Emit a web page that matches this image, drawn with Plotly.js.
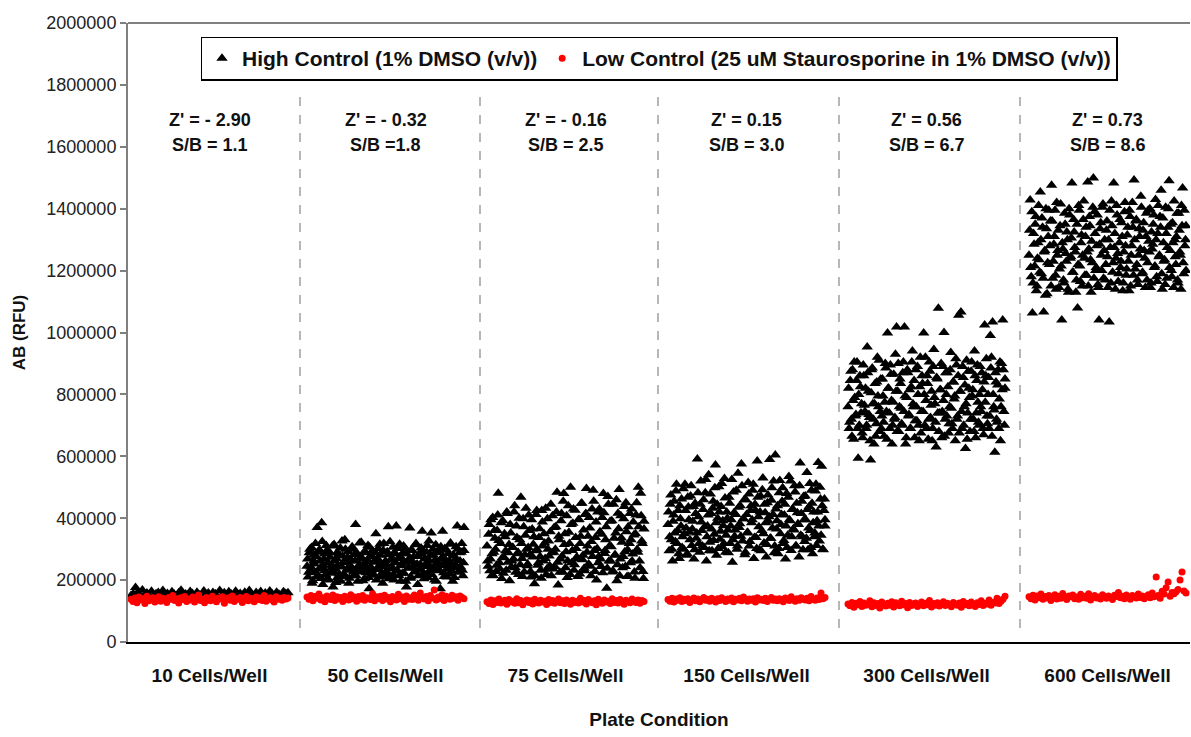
<!DOCTYPE html>
<html>
<head>
<meta charset="utf-8">
<script src="https://cdn.plot.ly/plotly-3.0.1.min.js"></script>
<style>html,body{margin:0;padding:0;background:#fff;}#chart{width:1191px;height:737px;}</style>
</head>
<body>
<div id="chart"></div>
<script>
// ---------------- DATA (in thousands of RFU) ----------------
const categories = ['10 Cells/Well', '50 Cells/Well', '75 Cells/Well', '150 Cells/Well', '300 Cells/Well', '600 Cells/Well'];
const zPrimeLabels = ["Z' = - 2.90", "Z' = - 0.32", "Z' = - 0.16", "Z' = 0.15", "Z' = 0.56", "Z' = 0.73"];
const sbLabels = ["S/B = 1.1", "S/B =1.8", "S/B = 2.5", "S/B = 3.0", "S/B = 6.7", "S/B = 8.6"];
const highName = 'High Control (1% DMSO (v/v))';
const lowName = 'Low Control (25 uM Staurosporine in 1% DMSO (v/v))';

// 10 cells/well
const high10 = [150,156,176,161,143,168,153,158,145,164,148,156,160,142,166,151,157,147,162,154,144,159,167,150,155,146,163,157,149,161,152,145,165,154,158,147,160,156,143,166,151,159,148,162,155,146,164,153,157,150,161,144,166,155,148,160,153,163,147,158,152,165,156,149,161,154,145,162,157,159];
const low10 = [138,131,142,127,145,136,140,124,148,133,139,143,129,137,146,132,141,135,128,144,138,150,134,140,126,143,137,147,131,139,136,145,129,141,152,134,138,127,144,140,133,148,136,130,142,139,146,125,137,143,135,149,131,140,138,144,128,136,147,133,141,139,130,145,137,142,134,150,132,140,143,136,129,146,138,141,135,144,139,142];

// 50 cells/well
const high50 = [245,210,288,232,305,198,262,224,276,370, 215,298,240,385,186,268,230,312,205,255, 290,222,248,178,315,236,270,208,284,242, 196,326,258,218,300,232,274,190,262,244, 308,214,282,380,236,196,268,250,322,226, 288,204,258,240,312,172,276,230,296,218, 264,350,238,302,210,280,246,190,318,256, 228,292,372,214,266,244,306,200,284,375, 232,270,316,196,254,288,222,302,178,262, 240,368,210,296,258,226,314,248,186,276, 236,304,358,220,268,252,290,208,326,244, 352,232,280,200,314,256,236,296,172,270, 358,224,302,248,210,286,262,320,230,196, 278,250,308,375,226,288,242,318,214,370];
const high50b = [268,225,300,242,190,280,252,318,210,290, 235,262,205,325,248,284,218,296,258,200, 274,238,310,226,262,192,288,250,220,304, 244,278,212,330,256,236,292,206,268,240, 300,228,262,214,286,246,320,232,272,198, 250,292,224,266,208,306,242,278,216,258, 288,200,270,234,316,252,224,296,212,262, 244,282,204,324,236,270,218,290,256,230, 302,214,276,246,222,310,258,196,284,238, 268,206,298,242,276,228,318,252,214,286, 250,232,296,204,270,244,312,226,262,280, 218,300,240,266,196,288,254,230,308,246, 276,212,262,298,236,254,220,316,240,282, 208,268,244,300,226,262,290,232,256,296];
const low50 = [145,138,150,133,147,141,155,136,143,130,149,140,137,152,134,146,139,144,131,148,142,136,153,140,145,132,147,138,150,135,143,141,137,156,133,146,140,148,134,151,139,144,130,147,142,136,154,140,145,131,149,138,143,137,152,141,135,158,144,139,147,133,150,142,168,136,145,140,153,134,148,143,138,151,141,146,135,149,144,140];

// 75 cells/well
const high75 = [310,245,380,268,214,402,290,335,228,360, 481,256,318,205,392,274,340,232,415,288, 198,352,262,305,420,240,375,285,218,330, 468,270,398,226,345,300,252,410,282,210, 365,316,188,295,425,248,338,276,206,388, 262,320,432,236,300,278,356,214,408,290, 244,372,484,184,330,268,415,226,480,350, 292,208,440,318,500,256,384,232,426,302, 268,395,220,342,448,280,238,412,496,310, 252,368,214,430,490,296,338,200,420,276, 356,244,402,480,286,330,174,470,262,390, 308,226,445,280,352,198,416,493,268,336, 240,398,292,450,212,372,318,256,430,284, 346,206,410,300,500,262,481,326,228,390];
const high75b = [262,348,230,395,285,215,360,300,248,410, 328,236,385,272,222,350,295,420,258,315, 380,242,305,268,440,225,338,290,400,250, 318,212,372,282,432,246,305,360,228,395, 275,340,214,412,298,256,366,232,425,310, 350,270,218,398,326,246,445,288,236,370, 300,420,258,342,225,392,278,455,315,240, 408,262,355,218,380,296,430,250,338,275, 212,396,318,448,266,362,230,415,290,342, 402,245,325,276,455,228,388,302,256,430, 268,348,224,418,296,372,238,445,310,262, 392,230,335,282,460,250,366,214,408,322, 276,438,244,356,298,212,415,330,262,388, 226,350,450,290,372,240,408,318,205,365];
const low75 = [130,124,136,121,133,128,139,126,131,135,122,137,129,132,125,140,127,134,120,131,136,128,133,123,138,130,126,135,129,132,121,137,128,134,125,131,139,127,133,124,136,130,122,135,128,132,126,141,129,134,123,137,131,127,133,120,138,130,125,136,129,132,124,140,128,134,126,137,131,122,135,130,127,139,133,128,136,125,134,131];

// 150 cells/well
const high150 = [380,295,445,330,262,410,352,488,318,425, 270,398,462,340,300,510,368,285,436,355, 472,312,390,268,448,335,591,405,290,520, 360,428,305,482,262,375,540,322,415,295, 455,348,572,280,400,502,332,438,308,376, 528,290,420,362,468,318,395,258,485,342, 412,300,545,370,440,575,326,398,282,460, 352,515,310,425,385,490,270,445,338,585, 405,298,472,360,530,320,418,275,450,390, 590,335,498,412,288,604,365,440,302,522, 380,455,318,410,268,480,345,535,392,296, 428,366,505,310,448,382,275,578,415,340, 470,325,395,548,298,438,360,490,285,420, 352,510,392,580,326,462,568,300,425,375];
const high150b = [420,340,475,300,390,455,325,510,360,285, 440,375,305,495,350,425,280,468,395,330, 505,365,438,298,415,352,482,318,445,388, 310,460,372,525,340,410,295,478,365,432, 328,498,385,445,302,420,358,512,392,318, 465,345,400,288,448,375,525,330,418,362, 490,310,435,382,342,505,398,460,290,412, 355,478,325,440,395,510,338,425,302,468, 372,420,295,492,350,445,385,315,475,405, 335,458,368,520,310,430,392,285,482,350, 412,498,328,445,375,305,468,395,520,340, 430,362,485,310,418,380,505,345,455,298, 395,472,335,428,368,512,305,448,385,340, 488,312,420,375,500,345,440,298,462,395];
const low150 = [137,132,141,129,139,135,143,131,138,134,140,128,136,142,133,139,130,137,144,135,138,132,141,136,129,140,134,143,137,131,139,135,142,130,138,136,141,133,145,137,132,139,135,140,129,143,136,138,134,141,131,137,144,135,139,133,140,136,130,142,138,134,146,137,132,140,135,143,139,136,141,133,147,138,135,142,137,158,140,144];

// 300 cells/well
const high300 = [760,690,845,720,880,655,790,735,905,594, 700,825,770,660,860,745,690,953,810,725, 588,880,770,640,835,705,920,760,680,850, 730,795,665,900,745,998,820,690,865,640, 775,720,930,1018,810,680,850,755,700,905, 1018,640,790,870,735,690,825,940,760,660, 880,715,800,650,920,745,835,998,700,780, 860,655,905,725,810,690,945,770,630,850, 1078,740,815,660,890,1000,720,800,870,675, 760,935,705,840,785,650,895,730,1056,810, 1066,690,855,760,625,910,740,820,680,875, 795,720,940,660,845,775,700,890,745,815, 670,1024,860,730,800,690,990,920,1034,760, 613,840,710,880,785,650,900,1040,745,820];
const high300b = [820,710,875,665,780,905,730,845,690,800, 860,740,675,895,765,820,700,870,735,650, 805,885,720,770,665,840,795,910,745,690, 850,710,775,885,655,820,740,895,780,700, 865,725,810,680,900,760,835,705,870,745, 795,660,880,730,815,690,905,770,845,715, 760,890,700,825,675,860,745,800,920,690, 835,720,875,765,650,890,790,710,855,740, 680,815,900,745,780,665,870,730,825,705, 880,755,690,840,795,915,720,860,675,810, 745,890,700,830,770,655,875,790,720,905, 815,680,860,740,895,710,800,760,870,690, 840,775,915,705,855,730,885,665,800,750, 870,720,830,690,905,760,815,880,700,850];
const low300 = [123,117,128,112,125,120,131,115,126,119,122,133,114,127,118,124,110,129,121,116,125,119,130,113,127,122,117,132,120,124,111,128,118,123,126,115,121,129,117,125,120,134,113,124,119,127,116,122,130,118,125,121,114,128,123,119,126,112,131,120,124,117,129,122,115,127,121,133,118,125,123,136,119,128,126,141,124,132,138,148];

// 600 cells/well
const high600 = [1250,1428,1180,1063,1320,1215,1375,1150,1290,1235, 1454,1190,1340,1066,1265,1400,1125,1310,1220,1360, 1476,1175,1285,1395,1140,1250,1330,1205,1415,1040, 1270,1160,1350,1230,1300,1130,1380,1245,1483,1195, 1325,1260,1170,1079,1410,1215,1290,1150,1365,1240, 1310,1185,1486,1270,1345,1130,1225,1499,1390,1200, 1280,1155,1040,1335,1250,1405,1175,1300,1220,1360, 1145,1034,1275,1425,1195,1483,1320,1240,1380,1165, 1290,1210,1355,1135,1260,1420,1185,1315,1230,1395, 1150,1280,1340,1493,1205,1365,1170,1250,1310,1440, 1190,1330,1265,1145,1385,1225,1295,1400,1160,1270, 1350,1210,1430,1180,1320,1245,1375,1460,1140,1290, 1235,1405,1175,1340,1490,1265,1200,1355,1145,1300, 1220,1385,1160,1330,1250,1410,1467,1190,1280,1345];
const high600b = [1330,1210,1390,1160,1285,1350,1135,1240,1410,1195, 1300,1370,1175,1260,1120,1335,1225,1395,1280,1150, 1360,1230,1310,1185,1420,1265,1145,1345,1215,1290, 1170,1385,1255,1325,1140,1400,1240,1305,1195,1365, 1275,1130,1350,1220,1395,1165,1315,1250,1425,1185, 1340,1260,1150,1375,1235,1295,1405,1175,1320,1210, 1380,1145,1285,1355,1200,1415,1265,1170,1330,1245, 1300,1395,1160,1345,1225,1275,1140,1410,1255,1190, 1365,1230,1310,1160,1390,1280,1205,1340,1135,1375, 1250,1420,1185,1300,1360,1220,1155,1335,1270,1405, 1195,1355,1240,1310,1170,1395,1260,1145,1325,1285, 1380,1215,1300,1165,1410,1250,1340,1190,1370,1230, 1155,1320,1275,1400,1210,1350,1180,1290,1425,1245, 1310,1170,1385,1260,1140,1345,1225,1395,1300,1200];
const low600 = [146,140,151,136,149,143,155,138,147,142,150,134,145,153,139,148,141,157,144,137,149,146,152,140,145,138,154,143,148,141,156,136,147,150,142,145,139,153,146,141,149,144,137,151,147,160,143,148,140,152,145,138,150,146,142,155,144,149,140,147,153,143,158,146,210,150,141,164,155,175,194,148,160,156,162,170,200,226,165,158];

const highGroups = [[high10], [high50, high50b], [high75, high75b], [high150, high150b], [high300, high300b], [high600, high600b]];
const lowGroups = [[low10], [low50], [low75], [low150], [low300], [low600]];

// ---------------- LAYOUT CONSTANTS (well-position axis) ----------------
const groupStart = [3, 179, 359, 540, 720, 901];
const groupWidth = 157;
const dividerX = [172, 352, 530, 711, 892];
const FONT = 'Arial, "Liberation Sans", Helvetica, sans-serif';

function wellPositions(start, n, shift) {
  const step = groupWidth / (n - 1);
  const out = [];
  for (let i = 0; i < n; i++) out.push(Math.min(start + groupWidth, start + i * step + shift * step));
  return out;
}
function buildTrace(groups) {
  let x = [], y = [];
  groups.forEach((sets, g) => {
    sets.forEach((vals, k) => {
      x = x.concat(wellPositions(groupStart[g], vals.length, k * 0.5));
      y = y.concat(vals.map(v => v * 1000));
    });
  });
  return {x, y};
}

const hi = buildTrace(highGroups);
const lo = buildTrace(lowGroups);

const traces = [
  {type: 'scatter', mode: 'markers', name: highName, x: hi.x, y: hi.y,
   marker: {symbol: 'triangle-up', size: 10, color: '#000000', line: {width: 0}}},
  {type: 'scatter', mode: 'markers', name: lowName, x: lo.x, y: lo.y,
   marker: {symbol: 'circle', size: 7, color: '#ff0000', line: {width: 0}}}
];

const centers = groupStart.map(s => s + groupWidth / 2);

const annotations = [];
centers.forEach((cx, g) => {
  annotations.push({x: cx, y: 1686000, xref: 'x', yref: 'y', text: zPrimeLabels[g], showarrow: false,
    font: {family: FONT, size: 18, color: '#111', weight: 'bold'}});
  annotations.push({x: cx, y: 1606000, xref: 'x', yref: 'y', text: sbLabels[g], showarrow: false,
    font: {family: FONT, size: 18, color: '#111', weight: 'bold'}});
});

const shapes = dividerX.map(dx => ({type: 'line', xref: 'x', yref: 'y', x0: dx, x1: dx, y0: 45000, y1: 1790000,
  line: {color: '#a0a0a0', width: 1.5, dash: 'dash'}}));
shapes.push({type: 'line', xref: 'paper', yref: 'paper', x0: 0, x1: 1, y0: 1, y1: 1, line: {color: '#808080', width: 2}});

const layout = {
  width: 1191, height: 737,
  margin: {l: 128, r: 1, t: 23, b: 95},
  paper_bgcolor: '#ffffff', plot_bgcolor: '#ffffff',
  font: {family: FONT, color: '#111'},
  showlegend: true,
  legend: {orientation: 'h', x: 0.5, xanchor: 'center', y: 0.978, yanchor: 'top',
    bgcolor: '#ffffff', bordercolor: '#000000', borderwidth: 1.5,
    font: {family: FONT, size: 21, color: '#111', weight: 'bold'}, itemwidth: 30},
  xaxis: {range: [0, 1062], showgrid: false, zeroline: false, showline: true, linecolor: '#000', linewidth: 2,
    tickvals: centers, ticktext: categories, ticks: '', ticklabelstandoff: 15,
    tickfont: {family: FONT, size: 19, color: '#111', weight: 'bold'},
    title: {text: 'Plate Condition', font: {family: FONT, size: 19, color: '#111', weight: 'bold'}, standoff: 28},
    fixedrange: true},
  yaxis: {range: [0, 2000000], dtick: 200000, tick0: 0, tickformat: 'd', showgrid: false, zeroline: false,
    showline: true, linecolor: '#808080', linewidth: 2, ticks: 'outside', ticklen: 6, tickwidth: 2, tickcolor: '#808080',
    tickfont: {family: FONT, size: 18, color: '#222'},
    title: {text: 'AB (RFU)', font: {family: FONT, size: 17, color: '#111', weight: 'bold'}, standoff: 16},
    fixedrange: true},
  annotations, shapes
};

Plotly.newPlot('chart', traces, layout, {displayModeBar: false, staticPlot: true});
</script>
</body>
</html>
